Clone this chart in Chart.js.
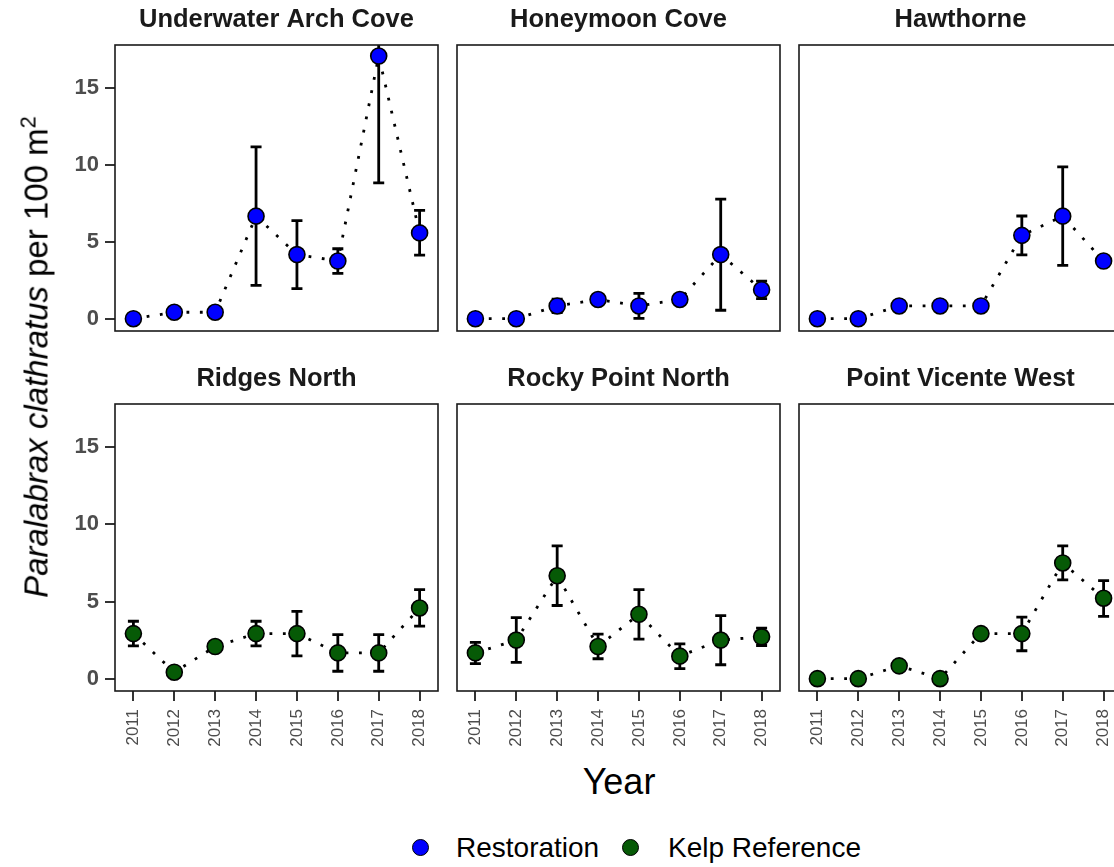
<!DOCTYPE html>
<html>
<head>
<meta charset="utf-8">
<script src="https://cdn.jsdelivr.net/npm/chart.js@4.4.1/dist/chart.umd.min.js"></script>
<style>
  html, body { margin: 0; padding: 0; background: #fff; overflow: hidden; }
  #wrap { position: relative; width: 1114px; height: 867px; overflow: hidden;
          font-family: "Liberation Sans", Arial, Helvetica, sans-serif; }
  canvas { position: absolute; }
  #ytitle { position: absolute; left: 36px; top: 357px; white-space: nowrap;
            font-size: 33px; line-height: 33px; color: #000;
            transform: translate(-50%, -50%) rotate(-90deg); }
  #ytitle sup { font-size: 0.66em; line-height: 0; }
  #xtitle { position: absolute; left: 619px; top: 782px; font-size: 36px; line-height: 36px;
            transform: translate(-50%, -50%); color: #000; }
  .dot { position: absolute; width: 15px; height: 15px; border-radius: 50%;
         border: 1.5px solid #000; top: 839px; }
  .lab { position: absolute; top: 833px; font-size: 28px; line-height: 30px; color: #000; white-space: nowrap; }
</style>
</head>
<body>
<div id="wrap">
  <canvas id="p0" width="442" height="335" style="left:0px;top:0px"></canvas>
  <canvas id="p1" width="337" height="335" style="left:447px;top:0px"></canvas>
  <canvas id="p2" width="337" height="335" style="left:789px;top:0px"></canvas>
  <canvas id="p3" width="442" height="400" style="left:0px;top:360px"></canvas>
  <canvas id="p4" width="337" height="400" style="left:447px;top:360px"></canvas>
  <canvas id="p5" width="337" height="400" style="left:789px;top:360px"></canvas>
  <div id="ytitle"><i>Paralabrax clathratus</i> per 100 m<sup>2</sup></div>
  <div id="xtitle">Year</div>
  <span class="dot" style="left:412px;background:#0000ff"></span>
  <span class="lab" style="left:456px">Restoration</span>
  <span class="dot" style="left:622px;background:#065a06"></span>
  <span class="lab" style="left:668px">Kelp Reference</span>
</div>
<script>
const family = '"Liberation Sans", Arial, Helvetica, sans-serif';

const years = [2011, 2012, 2013, 2014, 2015, 2016, 2017, 2018];
const yTicks = [0, 5, 10, 15];
const siteNames = ['Underwater Arch Cove', 'Honeymoon Cove', 'Hawthorne',
                   'Ridges North', 'Rocky Point North', 'Point Vicente West'];
const siteTypes = ['Restoration', 'Restoration', 'Restoration',
                   'Kelp Reference', 'Kelp Reference', 'Kelp Reference'];
const typeColors = { 'Restoration': '#0000ff', 'Kelp Reference': '#065a06' };

// mean density and error bar ends per site
const uacMean  = [0, 0.42, 0.42, 6.67, 4.17, 3.75, 17.08, 5.58];
const uacLow   = [0, 0.42, 0.42, 2.17, 1.96, 2.95, 8.83, 4.13];
const uacHigh  = [0, 0.42, 0.42, 11.17, 6.38, 4.55, 25.33, 7.04];

const honMean  = [0, 0, 0.83, 1.25, 0.83, 1.25, 4.17, 1.88];
const honLow   = [0, 0, 0.40, 1.25, 0.02, 1.25, 0.55, 1.30];
const honHigh  = [0, 0, 1.27, 1.25, 1.65, 1.25, 7.77, 2.45];

const hawMean  = [0, 0, 0.83, 0.83, 0.83, 5.42, 6.67, 3.75];
const hawLow   = [0, 0, 0.83, 0.83, 0.83, 4.15, 3.47, 3.60];
const hawHigh  = [0, 0, 0.83, 0.83, 0.83, 6.68, 9.87, 3.90];

const ridMean  = [2.92, 0.42, 2.08, 2.92, 2.92, 1.67, 1.67, 4.58];
const ridLow   = [2.12, 0.42, 2.08, 2.12, 1.48, 0.48, 0.48, 3.40];
const ridHigh  = [3.72, 0.42, 2.08, 3.72, 4.36, 2.86, 2.86, 5.77];

const rpnMean  = [1.67, 2.50, 6.67, 2.08, 4.17, 1.46, 2.50, 2.71];
const rpnLow   = [0.97, 1.05, 4.74, 1.29, 2.56, 0.65, 0.90, 2.15];
const rpnHigh  = [2.35, 3.96, 8.60, 2.89, 5.77, 2.26, 4.09, 3.27];

const pvwMean  = [0, 0, 0.83, 0, 2.92, 2.92, 7.50, 5.21];
const pvwLow   = [0, 0, 0.55, 0, 2.92, 1.81, 6.40, 4.03];
const pvwHigh  = [0, 0, 1.10, 0, 2.92, 3.99, 8.60, 6.35];

const siteMeans = [uacMean, honMean, hawMean, ridMean, rpnMean, pvwMean];
const siteLows  = [uacLow, honLow, hawLow, ridLow, rpnLow, pvwLow];
const siteHighs = [uacHigh, honHigh, hawHigh, ridHigh, rpnHigh, pvwHigh];

// error bars drawn under the points, clipped to the panel
const errorBars = {
  id: 'errorBars',
  beforeDatasetsDraw(chart) {
    const { ctx, chartArea, scales: { x, y } } = chart;
    const ds = chart.data.datasets[0];
    ctx.save();
    ctx.beginPath();
    ctx.rect(chartArea.left, chartArea.top, chartArea.width, chartArea.height);
    ctx.clip();
    ctx.strokeStyle = '#000';
    ctx.lineWidth = 2.8;
    ctx.lineCap = 'butt';
    ds.data.forEach((pt, i) => {
      const px = x.getPixelForValue(pt.x);
      const lo = y.getPixelForValue(ds.errLow[i]);
      const hi = y.getPixelForValue(ds.errHigh[i]);
      const cap = 5.5;
      ctx.beginPath();
      ctx.moveTo(px, lo); ctx.lineTo(px, hi);
      ctx.moveTo(px - cap, lo); ctx.lineTo(px + cap, lo);
      ctx.moveTo(px - cap, hi); ctx.lineTo(px + cap, hi);
      ctx.stroke();
    });
    ctx.restore();
  }
};

// panel border and strip title
const panelFrame = {
  id: 'panelFrame',
  afterDraw(chart, args, opts) {
    const { ctx, chartArea } = chart;
    ctx.save();
    ctx.strokeStyle = '#1a1a1a';
    ctx.lineWidth = 1.6;
    ctx.strokeRect(chartArea.left, chartArea.top, chartArea.width, chartArea.height);
    ctx.fillStyle = '#1a1a1a';
    ctx.font = 'bold 25.5px ' + family;
    ctx.textAlign = 'center';
    ctx.textBaseline = 'alphabetic';
    ctx.fillText(opts.text, (chartArea.left + chartArea.right) / 2, chartArea.top - 18);
    ctx.restore();
  }
};

siteNames.forEach((name, k) => {
  const col = k % 3;
  const bottomRow = k >= 3;
  const color = typeColors[siteTypes[k]];
  const ctx = document.getElementById('p' + k).getContext('2d');

  new Chart(ctx, {
    type: 'line',
    data: {
      datasets: [{
        label: siteTypes[k],
        data: years.map((yr, i) => ({ x: yr, y: siteMeans[k][i] })),
        errLow: siteLows[k],
        errHigh: siteHighs[k],
        borderColor: '#000',
        borderWidth: 2.8,
        borderDash: [2.8, 10.6],
        borderCapStyle: 'butt',
        tension: 0,
        pointRadius: 8,
        pointBorderWidth: 1.6,
        pointBackgroundColor: color,
        pointBorderColor: '#000',
        clip: false
      }]
    },
    options: {
      responsive: false,
      animation: false,
      events: [],
      layout: {
        autoPadding: false,
        padding: { top: bottomRow ? 44 : 45, right: 4, left: col === 0 ? 0 : 10, bottom: bottomRow ? 0 : 4 }
      },
      plugins: {
        legend: { display: false },
        tooltip: { enabled: false },
        panelFrame: { text: name }
      },
      scales: {
        x: {
          type: 'linear',
          min: 2010.55,
          max: 2018.45,
          display: bottomRow,
          afterBuildTicks: s => { s.ticks = years.map(v => ({ value: v })); },
          afterFit: s => {
            s.height = bottomRow ? 69 : 0;
            s.paddingLeft = 0; s.paddingRight = 0;
          },
          border: { display: false },
          grid: { drawOnChartArea: false, drawTicks: true, tickLength: 10, color: '#333', lineWidth: 2 },
          ticks: {
            minRotation: 90, maxRotation: 90, padding: 8,
            color: '#4d4d4d', font: { family: family, size: 17 },
            callback: v => String(v)
          }
        },
        y: {
          min: -0.8,
          max: 17.8,
          display: col === 0,
          afterBuildTicks: s => { s.ticks = yTicks.map(v => ({ value: v })); },
          afterFit: s => {
            s.width = col === 0 ? 115 : 0;
            s.paddingTop = 0; s.paddingBottom = 0;
          },
          border: { display: false },
          grid: { drawOnChartArea: false, drawTicks: true, tickLength: 10, color: '#333', lineWidth: 2 },
          ticks: {
            padding: 6, color: '#4d4d4d',
            font: { family: family, size: 22, weight: 'bold' },
            callback: v => String(v)
          }
        }
      }
    },
    plugins: [errorBars, panelFrame]
  });
});
</script>
</body>
</html>
